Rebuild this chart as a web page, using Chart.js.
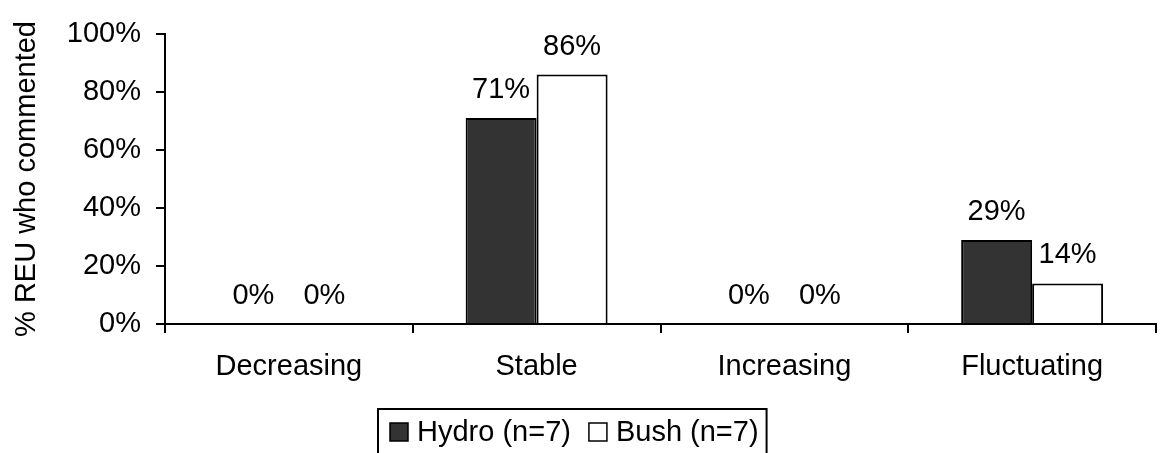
<!DOCTYPE html>
<html>
<head>
<meta charset="utf-8">
<script src="https://cdn.jsdelivr.net/npm/chart.js@4/dist/chart.umd.min.js"></script>
<style>
  html, body { margin: 0; padding: 0; background: #fff; }
  #wrap { width: 1161px; height: 453px; }
</style>
</head>
<body>
<div id="wrap"><canvas id="c" width="1161" height="453"></canvas></div>
<script>
// Share of REU respondents by perceived trend
const categories = ['Decreasing', 'Stable', 'Increasing', 'Fluctuating'];
const hydroValues = [0, 71, 0, 29];
const bushValues = [0, 86, 0, 14];
const seriesNames = ['Hydro (n=7)', 'Bush (n=7)'];
const yTicks = [0, 20, 40, 60, 80, 100];
const yTitle = '% REU who commented';

const FONT = '"Liberation Sans", Arial, sans-serif';
const FS = 29;

// Percentage labels above each bar
const valueLabels = {
  id: 'valueLabels',
  afterDatasetsDraw(chart) {
    const ctx = chart.ctx;
    ctx.save();
    ctx.font = FS + 'px ' + FONT;
    ctx.fillStyle = '#000';
    ctx.textAlign = 'center';
    ctx.textBaseline = 'alphabetic';
    chart.data.datasets.forEach((ds, i) => {
      const meta = chart.getDatasetMeta(i);
      meta.data.forEach((el, j) => {
        ctx.fillText(ds.data[j] + '%', el.x, el.y - 20);
      });
    });
    ctx.restore();
  }
};

// Boxed legend below the axis
const boxedLegend = {
  id: 'boxedLegend',
  afterDraw(chart) {
    const ctx = chart.ctx;
    const x0 = 378, y0 = 409, sq = 18, cy = 432;
    ctx.save();
    ctx.font = FS + 'px ' + FONT;
    ctx.strokeStyle = '#000';
    let x = x0 + 12;
    chart.data.datasets.forEach((ds, i) => {
      ctx.fillStyle = ds.backgroundColor;
      ctx.fillRect(x, cy - sq / 2, sq, sq);
      ctx.lineWidth = 1.5;
      ctx.strokeRect(x, cy - sq / 2, sq, sq);
      x += sq + 9;
      ctx.fillStyle = '#000';
      ctx.textAlign = 'left';
      ctx.textBaseline = 'middle';
      ctx.fillText(ds.label, x, cy + 1);
      x += ctx.measureText(ds.label).width + (i < chart.data.datasets.length - 1 ? 18 : 8);
    });
    ctx.lineWidth = 2;
    ctx.strokeRect(x0, y0, x - x0, 80);
    ctx.restore();
  }
};

new Chart(document.getElementById('c'), {
  type: 'bar',
  data: {
    labels: categories,
    datasets: [
      { label: seriesNames[0], data: hydroValues, backgroundColor: '#333333',
        borderColor: '#000', borderWidth: 2, categoryPercentage: 0.573, barPercentage: 1 },
      { label: seriesNames[1], data: bushValues, backgroundColor: '#ffffff',
        borderColor: '#000', borderWidth: 2, categoryPercentage: 0.573, barPercentage: 1 }
    ]
  },
  options: {
    responsive: false,
    animation: false,
    layout: { padding: { top: 34, right: 5, bottom: 0, left: 0 } },
    plugins: { legend: { display: false }, tooltip: { enabled: false } },
    scales: {
      x: {
        grid: { offset: true, drawOnChartArea: false, drawTicks: true, tickLength: 9,
                color: '#000', lineWidth: 2 },
        border: { display: true, color: '#000', width: 2 },
        ticks: { font: { family: FONT, size: FS }, color: '#000', padding: 17, maxRotation: 0 },
        afterFit(s) { s.height = 129; }
      },
      y: {
        min: 0, max: 100,
        afterBuildTicks(s) { s.ticks = yTicks.map(v => ({ value: v })); },
        grid: { drawOnChartArea: false, drawTicks: true, tickLength: 9, color: '#000', lineWidth: 2 },
        border: { display: true, color: '#000', width: 2 },
        ticks: { font: { family: FONT, size: FS }, color: '#000', padding: 15,
                 callback: v => v + '%' },
        title: { display: true, text: yTitle, color: '#000',
                 font: { family: FONT, size: FS }, padding: { top: 10, bottom: 0 } },
        afterFit(s) { s.width = 165; }
      }
    }
  },
  plugins: [valueLabels, boxedLegend]
});
</script>
</body>
</html>
